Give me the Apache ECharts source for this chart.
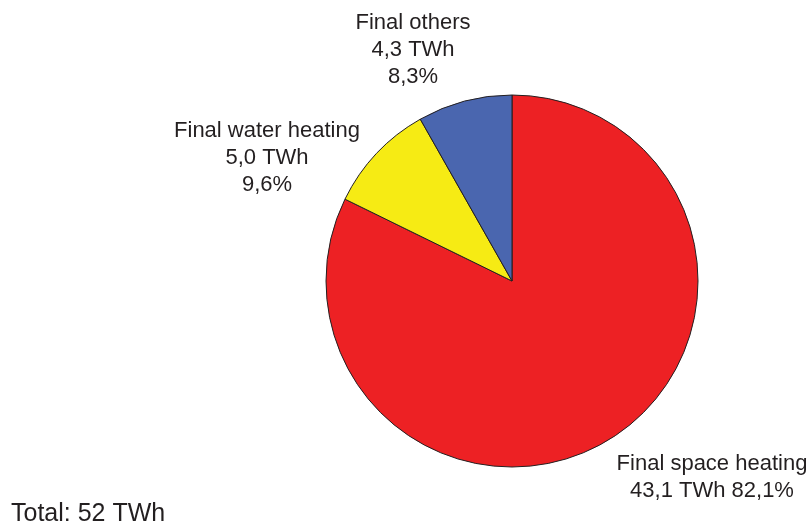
<!DOCTYPE html>
<html>
<head>
<meta charset="utf-8">
<script src="https://cdn.jsdelivr.net/npm/echarts@6/dist/echarts.min.js"></script>
<style>
  html, body { margin: 0; padding: 0; background: #fff; }
  #chart { width: 810px; height: 529px; }
</style>
</head>
<body>
<div id="chart"></div>
<script>
// 数据
const categories = ['Final space heating', 'Final water heating', 'Final others'];
const valuesTWh = [43.1, 5.0, 4.3];
const percentLabels = ['82,1%', '9,6%', '8,3%'];
const totalLabel = 'Total: 52 TWh';
const colors = ['#ED2124', '#F6EB14', '#4A66AF'];

// 标签位置（像素）
const labelPos = [
  { x: 712, y: 477 },
  { x: 267, y: 158 },
  { x: 413, y: 50 }
];

function fmt(v) {
  return v.toFixed(1).replace('.', ',');
}

let myChart = echarts.init(document.getElementById('chart'));
myChart.setOption({
  animation: false,
  textStyle: { fontFamily: 'Liberation Sans, Arial, sans-serif' },
  graphic: [
    {
      type: 'text',
      left: 11,
      top: 502,
      style: {
        text: totalLabel,
        fontSize: 25,
        fontFamily: 'Liberation Sans, Arial, sans-serif',
        fill: '#231f20'
      }
    }
  ],
  series: [
    {
      type: 'pie',
      center: [512, 281],
      radius: 186,
      startAngle: 90,
      clockwise: true,
      itemStyle: { borderColor: '#231f20', borderWidth: 1 },
      label: {
        show: true,
        position: 'inside',
        color: '#231f20',
        fontSize: 22,
        lineHeight: 27,
        align: 'center',
        overflow: 'none',
        formatter: function (p) {
          const i = p.dataIndex;
          if (i === 0) {
            return categories[i] + '\n' + fmt(valuesTWh[i]) + ' TWh ' + percentLabels[i];
          }
          return categories[i] + '\n' + fmt(valuesTWh[i]) + ' TWh\n' + percentLabels[i];
        }
      },
      labelLine: { show: false },
      labelLayout: function (params) {
        const p = labelPos[params.dataIndex];
        return { x: p.x, y: p.y, align: 'center', verticalAlign: 'middle' };
      },
      emphasis: { disabled: true },
      data: categories.map(function (name, i) {
        return { name: name, value: valuesTWh[i], itemStyle: { color: colors[i] } };
      })
    }
  ]
});
</script>
</body>
</html>
